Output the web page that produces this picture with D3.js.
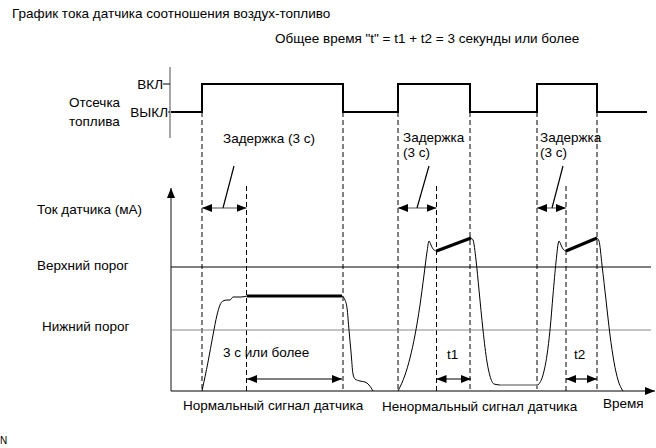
<!DOCTYPE html>
<html>
<head>
<meta charset="utf-8">
<script src="https://cdn.jsdelivr.net/npm/d3@7"></script>
<style>
  body { margin: 0; background: #fff; }
  svg { font-family: "Liberation Sans", Arial, sans-serif; }
</style>
</head>
<body>
<div id="chart"></div>
<script>
// time axis in arbitrary units, current in mA (schematic)
const cutTimes = [0, 3.1, 17.2, 22.7, 29.9, 36.6, 42.6, 47.6];
const cutStates = ['ВЫКЛ', 'ВКЛ', 'ВЫКЛ', 'ВКЛ', 'ВЫКЛ', 'ВКЛ', 'ВЫКЛ', 'ВЫКЛ'];
const delayEnds = [7.55, 26.55, 39.5];

const normalT = [3.1, 3.7, 4.2, 4.6, 4.9, 5.2, 5.6, 5.9, 6.2, 6.6, 7.0, 7.6];
const normalI = [0, 2.9, 5.6, 7.6, 8.6, 9.0, 9.1, 9.1, 9.4, 9.4, 9.4, 9.5];
const normalHoldT = [7.6, 17.1];
const normalHoldI = [9.5, 9.5];
const normalFallT = [17.1, 17.4, 17.6, 17.8, 18.0, 18.2, 18.4, 18.9, 19.4, 19.8, 20.2];
const normalFallI = [9.5, 9.1, 8.3, 6.1, 3.9, 1.7, 1.2, 1.0, 0.9, 0.6, 0];

const abn1T = [22.7, 23.4, 23.9, 24.4, 24.9, 25.3, 25.6, 25.8, 26.0, 26.2, 26.55];
const abn1I = [0, 1.6, 3.3, 5.6, 8.6, 11.6, 13.9, 15.0, 14.6, 14.2, 14.0];
const abn1HoldT = [26.55, 30.0];
const abn1HoldI = [14.0, 15.3];
const abn1FallT = [30.0, 30.2, 30.5, 30.8, 31.2, 31.6, 31.9, 32.3, 32.9];
const abn1FallI = [15.3, 15.1, 13.1, 10.1, 6.1, 2.9, 1.5, 0.7, 0.6];
const floorT = [32.9, 36.7];
const floorI = [0.6, 0.6];
const abn2T = [36.7, 37.2, 37.6, 37.9, 38.2, 38.5, 38.8, 39.0, 39.2, 39.5];
const abn2I = [0.6, 1.6, 3.6, 6.1, 9.6, 12.9, 15.0, 14.6, 14.2, 14.0];
const abn2HoldT = [39.5, 42.6];
const abn2HoldI = [14.0, 15.3];
const abn2FallT = [42.6, 42.8, 43.1, 43.5, 43.9, 44.3, 44.7, 45.2];
const abn2FallI = [15.3, 15.0, 12.6, 9.1, 5.6, 2.9, 1.1, 0];

const upperThreshold = 12.4;
const lowerThreshold = 6.1;

const width = 656, height = 448;
const fs = 13.5;

const svg = d3.select('#chart').append('svg')
  .attr('width', width)
  .attr('height', height);

const x = d3.scaleLinear().domain([0, 48]).range([171, 651]);
const y = d3.scaleLinear().domain([0, 20.3]).range([391, 188]);
const cutY = d3.scalePoint().domain(['ВЫКЛ', 'ВКЛ']).range([112, 84]);

// arrowhead marker
svg.append('defs').append('marker')
  .attr('id', 'head')
  .attr('viewBox', '0 0 10 8')
  .attr('refX', 10).attr('refY', 4)
  .attr('markerWidth', 10).attr('markerHeight', 8)
  .attr('markerUnits', 'userSpaceOnUse')
  .attr('orient', 'auto-start-reverse')
  .append('path')
  .attr('d', 'M0,0L10,4L0,8Z')
  .attr('fill', '#000');

const zip = (ts, vs) => ts.map((t, i) => [t, vs[i]]);
const line = d3.line().x(d => x(d[0])).y(d => y(d[1])).curve(d3.curveMonotoneX);

function label(px, py, txt, size) {
  return svg.append('text').attr('x', px).attr('y', py)
    .attr('font-size', size || fs).text(txt);
}

// titles
label(12, 18, 'График тока датчика соотношения воздух-топливо');
label(275, 43, 'Общее время "t" = t1 + t2 = 3 секунды или более');

// fuel cut panel
svg.append('line').attr('x1', 170).attr('x2', 170).attr('y1', 67).attr('y2', 138)
  .attr('stroke', '#888').attr('stroke-width', 1.5);
svg.append('line').attr('x1', 163).attr('x2', 170).attr('y1', cutY('ВКЛ')).attr('y2', cutY('ВКЛ'))
  .attr('stroke', '#000');
svg.append('line').attr('x1', 168).attr('x2', 170).attr('y1', cutY('ВЫКЛ')).attr('y2', cutY('ВЫКЛ'))
  .attr('stroke', '#000');
label(163, cutY('ВКЛ') + 4.5, 'ВКЛ').attr('text-anchor', 'end');
label(168, cutY('ВЫКЛ') + 4.5, 'ВЫКЛ').attr('text-anchor', 'end');
label(69, 107, 'Отсечка');
label(69, 126, 'топлива');

svg.append('path')
  .datum(cutTimes.map((t, i) => [t, cutStates[i]]))
  .attr('fill', 'none').attr('stroke', '#000').attr('stroke-width', 2)
  .attr('d', d3.line().x(d => x(d[0])).y(d => cutY(d[1])).curve(d3.curveStepAfter));

// dashed guides
const edges = cutTimes.slice(1, 7);
svg.selectAll('.guide').data(edges).enter().append('line')
  .attr('x1', d => x(d)).attr('x2', d => x(d))
  .attr('y1', cutY('ВЫКЛ')).attr('y2', y(0))
  .attr('stroke', '#000').attr('stroke-dasharray', '5,3');
svg.selectAll('.guide2').data(delayEnds).enter().append('line')
  .attr('x1', d => x(d)).attr('x2', d => x(d))
  .attr('y1', 186).attr('y2', y(0))
  .attr('stroke', '#000').attr('stroke-dasharray', '5,3');

// delay labels and arrows
const delayStarts = [cutTimes[1], cutTimes[3], cutTimes[5]];
label(223, 143, 'Задержка (3 с)');
[403, 540].forEach(px => {
  label(px, 141.5, 'Задержка');
  label(px, 156.5, '(3 с)');
});
delayStarts.forEach((s, i) => {
  svg.append('line')
    .attr('x1', x(s)).attr('x2', x(delayEnds[i]))
    .attr('y1', 208).attr('y2', 208)
    .attr('stroke', '#888').attr('stroke-width', 1.5)
    .attr('marker-start', 'url(#head)').attr('marker-end', 'url(#head)');
});
const leaders = [[5.2, 6.3], [24.6, 25.8], [38.1, 39.2]];
leaders.forEach(l => {
  svg.append('line').attr('x1', x(l[0])).attr('y1', 208).attr('x2', x(l[1])).attr('y2', 166)
    .attr('stroke', '#000').attr('stroke-width', 1.2);
});

// current panel axes
svg.append('line').attr('x1', x(0)).attr('x2', x(0)).attr('y1', y(0)).attr('y2', y(20.3))
  .attr('stroke', '#888').attr('stroke-width', 2).attr('marker-end', 'url(#head)');
svg.append('line').attr('x1', x(0)).attr('x2', 655).attr('y1', y(0)).attr('y2', y(0))
  .attr('stroke', '#000').attr('stroke-width', 1.2).attr('marker-end', 'url(#head)');

svg.append('line').attr('x1', x(0)).attr('x2', x(48)).attr('y1', y(upperThreshold)).attr('y2', y(upperThreshold))
  .attr('stroke', '#000');
svg.append('line').attr('x1', x(0)).attr('x2', x(48)).attr('y1', y(lowerThreshold)).attr('y2', y(lowerThreshold))
  .attr('stroke', '#888');

label(37, 214, 'Ток датчика (мА)');
label(37, 270, 'Верхний порог');
label(42, 331, 'Нижний порог');

// signal curves
[[normalT, normalI], [normalFallT, normalFallI], [abn1T, abn1I], [abn1FallT, abn1FallI],
 [abn2T, abn2I], [abn2FallT, abn2FallI]].forEach(s => {
  svg.append('path').datum(zip(s[0], s[1]))
    .attr('fill', 'none').attr('stroke', '#000').attr('stroke-width', 1)
    .attr('d', line);
});
svg.append('path').datum(zip(floorT, floorI))
  .attr('fill', 'none').attr('stroke', '#888').attr('stroke-width', 1.5)
  .attr('d', line);
[[normalHoldT, normalHoldI], [abn1HoldT, abn1HoldI], [abn2HoldT, abn2HoldI]].forEach(s => {
  svg.append('path').datum(zip(s[0], s[1]))
    .attr('fill', 'none').attr('stroke', '#000').attr('stroke-width', 3)
    .attr('d', d3.line().x(d => x(d[0])).y(d => y(d[1])));
});

// duration arrows
const spans = [normalHoldT, abn1HoldT, abn2HoldT];
spans.forEach(s => {
  svg.append('line').attr('x1', x(s[0])).attr('x2', x(s[1])).attr('y1', 379).attr('y2', 379)
    .attr('stroke', '#000').attr('stroke-width', 1.2)
    .attr('marker-start', 'url(#head)').attr('marker-end', 'url(#head)');
});
label(223, 357, '3 с или более');
label(447, 359, 't1');
label(574, 359, 't2');

label(183, 410, 'Нормальный сигнал датчика');
label(382, 411, 'Ненормальный сигнал датчика');
label(603, 408, 'Время');
label(0, 444, 'N', 10);
</script>
</body>
</html>
